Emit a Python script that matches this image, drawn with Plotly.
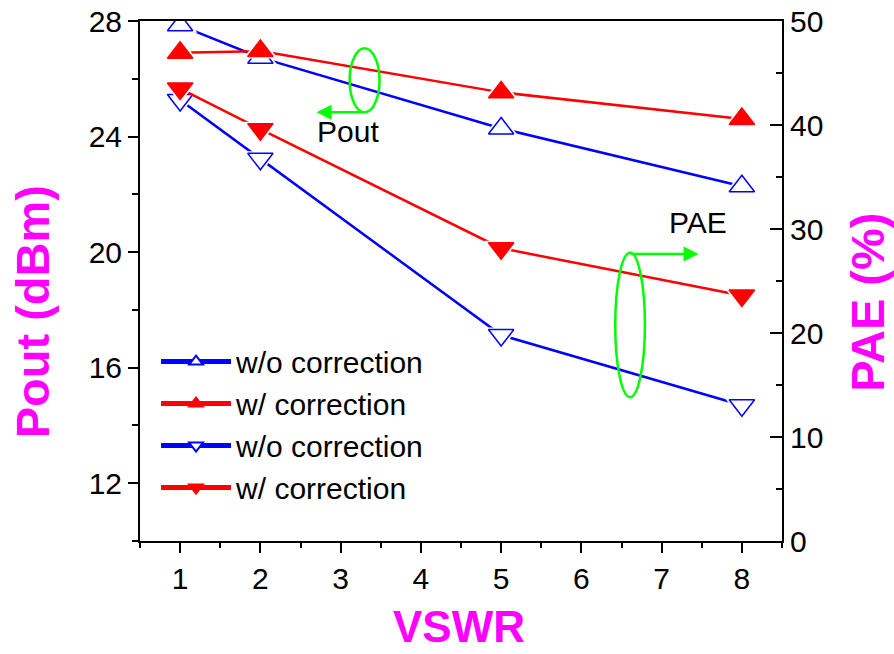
import plotly.graph_objects as go

# VSWR sweep and measured results
vswr = [1, 2, 5, 8]
pout_wo = [27.85, 26.73, 24.28, 22.28]   # Pout (dBm), without correction
pout_w = [26.90, 26.96, 25.53, 24.61]    # Pout (dBm), with correction
pae_wo = [42.4, 36.75, 19.8, 13.05]      # PAE (%), without correction
pae_w = [43.5, 39.6, 28.15, 23.6]        # PAE (%), with correction

x_ticks = [1, 2, 3, 4, 5, 6, 7, 8]

BLUE = "#0000FF"
RED = "#FF0000"
MAGENTA = "#FF00FF"
GREEN = "#00FF00"
FONT = "Arial, Liberation Sans, sans-serif"
MSIZE = 22

series = [
    ("w/o correction", pout_wo, "y", BLUE, "triangle-up", False),
    ("w/ correction", pout_w, "y", RED, "triangle-up", True),
    ("w/o correction", pae_wo, "y2", BLUE, "triangle-down", False),
    ("w/ correction", pae_w, "y2", RED, "triangle-down", True),
]

fig = go.Figure()
for name, vals, yax, color, sym, filled in series:
    fill = color if filled else "white"
    # connecting line (also provides the legend entry)
    fig.add_trace(go.Scatter(
        x=vswr, y=vals, yaxis=yax, name=name, mode="lines+markers",
        line=dict(color=color, width=2.5),
        marker=dict(symbol=sym, size=MSIZE, color=fill,
                    line=dict(color=color, width=1.5)),
    ))
    # white halo leaves a small gap between line and symbol
    fig.add_trace(go.Scatter(
        x=vswr, y=vals, yaxis=yax, mode="markers", showlegend=False,
        hoverinfo="skip",
        marker=dict(symbol=sym, size=MSIZE + 8, color="white",
                    line=dict(width=0)),
    ))
    fig.add_trace(go.Scatter(
        x=vswr, y=vals, yaxis=yax, mode="markers", showlegend=False,
        marker=dict(symbol=sym, size=MSIZE, color=fill,
                    line=dict(color=color, width=1.5)),
    ))

# ellipses grouping the curves and arrows pointing at their axes
fig.add_shape(type="circle", xref="x", yref="y", x0=3.112, x1=3.485,
              y0=24.84, y1=27.055, line=dict(color=GREEN, width=2.5))
fig.add_shape(type="circle", xref="x", yref="y", x0=6.422, x1=6.792,
              y0=14.975, y1=19.98, line=dict(color=GREEN, width=2.5))

arrow = dict(showarrow=True, text="", arrowhead=2, arrowsize=1.2,
             arrowwidth=2.5, arrowcolor=GREEN, xref="x", yref="y",
             axref="x", ayref="y", standoff=0, startstandoff=0)
fig.add_annotation(x=2.70, y=24.84, ax=3.299, ay=24.84, **arrow)
fig.add_annotation(x=7.46, y=19.935, ax=6.597, ay=19.935, **arrow)

fig.add_annotation(x=2.676, y=24.17, xref="x", yref="y", text="Pout",
                   showarrow=False, xanchor="left", yanchor="middle",
                   font=dict(family=FONT, size=30, color="black"))
fig.add_annotation(x=7.061, y=21.04, xref="x", yref="y", text="PAE",
                   showarrow=False, xanchor="left", yanchor="middle",
                   font=dict(family=FONT, size=30, color="black"))

# axis titles
title_font = dict(family=FONT, size=47, color=MAGENTA)
fig.add_annotation(x=0.497, y=-0.1635, xref="paper", yref="paper",
                   text="<b>VSWR</b>", showarrow=False,
                   xanchor="center", yanchor="middle",
                   font=dict(family=FONT, size=44, color=MAGENTA))
fig.add_annotation(x=-0.168, y=0.44, xref="paper", yref="paper",
                   text="<b>Pout (dBm)</b>", showarrow=False, textangle=-90,
                   xanchor="center", yanchor="middle", font=title_font)
fig.add_annotation(x=1.134, y=0.458, xref="paper", yref="paper",
                   text="<b>PAE (%)</b>", showarrow=False, textangle=-90,
                   xanchor="center", yanchor="middle", font=title_font)

axis_common = dict(showgrid=False, zeroline=False, showline=True,
                   automargin=False,
                   linecolor="black", linewidth=2, tickcolor="black",
                   tickwidth=2, tickfont=dict(family=FONT, size=30, color="black"))

fig.update_layout(
    width=894, height=654,
    margin=dict(l=140, r=112, t=21, b=113),
    paper_bgcolor="white", plot_bgcolor="white",
    font=dict(family=FONT, color="black"),
    xaxis=dict(range=[0.5, 8.5], tickmode="array", tickvals=x_ticks,
               ticks="outside", ticklen=10, mirror=True,
               minor=dict(ticks="outside", ticklen=5, tickwidth=2,
                          tickcolor="black", dtick=0.5, tick0=0.5),
               **axis_common),
    yaxis=dict(range=[10, 28], tick0=12, dtick=4, ticks="outside", ticklen=10,
               minor=dict(ticks="outside", ticklen=6, tickwidth=2,
                          tickcolor="black", dtick=2, tick0=10),
               **axis_common),
    yaxis2=dict(range=[0, 50], dtick=10, tick0=0, overlaying="y", side="right",
                ticks="inside", ticklen=12,
                minor=dict(ticks="inside", ticklen=6, tickwidth=2,
                           tickcolor="black", dtick=5, tick0=0),
                **axis_common),
    legend=dict(x=0.025, y=0.395, xanchor="left", yanchor="top",
                bgcolor="rgba(0,0,0,0)", itemsizing="constant", itemwidth=70,
                font=dict(family=FONT, size=30, color="black"),
                tracegroupgap=0),
    showlegend=True,
)

fig.write_html("out.html")
